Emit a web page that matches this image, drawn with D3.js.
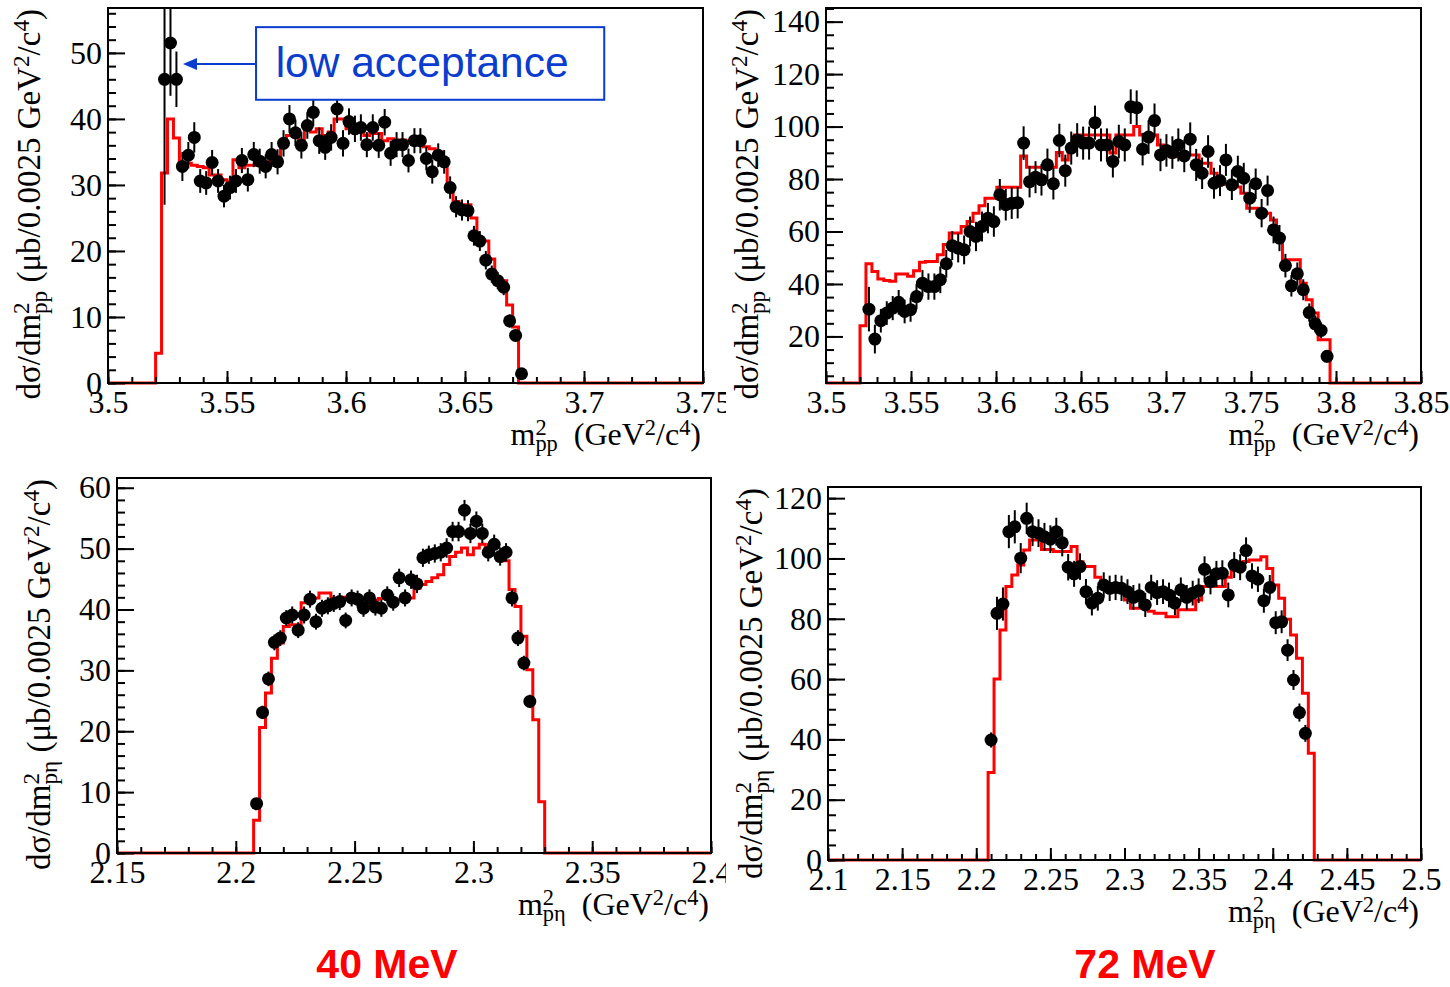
<!DOCTYPE html>
<html>
<head>
<meta charset="utf-8">
<script src="https://cdn.jsdelivr.net/npm/d3@7"></script>
<style>
  body { margin: 0; background: #fff; }
  svg { display: block; }
</style>
</head>
<body>
<svg id="chart" width="1450" height="987"></svg>
<script>
// ---------------- data ----------------

// 40 MeV, m^2(pp): bins of 0.0025 from 3.52
var ppLowBinStart = 3.52, ppLowBinWidth = 0.0025;
var ppLowSim = [4.5,31.8,40,37.1,33.3,33.3,33.0,32.8,32.6,31.5,31.5,30.8,30.5,33.8,32.6,33.0,33.0,33.2,33.2,33.5,
  33.8,36.5,37.5,37.5,36.8,38.5,38.0,38.5,37.5,38.0,40.0,40.0,38.5,38.0,38.2,37.5,37.8,37.8,36.7,37.0,
  36.5,36.8,36.7,37.2,37.2,35.8,35.5,35.0,33.8,30.0,27.5,27.0,27.0,25.0,21.5,21.5,18.8,15.5,15.5,11.8,
  8.5,0];
var ppLowData = [null,46,51.5,46,32.8,34.5,37.2,30.6,30.3,33.4,30.6,28.3,29.6,30.6,33.7,30.8,34.6,33.6,32.8,34.6,
  33.5,36.3,40.0,37.9,36.0,39.0,41.0,36.7,35.7,37.2,41.5,36.3,39.6,38.5,38.7,36.1,38.7,36.0,39.5,34.8,
  36.1,36.1,33.7,36.7,36.7,34.0,32.0,34.5,33.5,29.6,26.7,26.2,26.1,22.3,21.5,18.6,16.5,15.5,14.5,9.4,
  7.2,1.4];
var ppLowErr = [0,19,8,4.2,2.2,2.0,2.3,1.8,1.8,1.9,1.8,1.7,1.8,1.8,1.9,1.8,1.9,1.9,1.8,1.9,
  1.9,2.0,2.1,2.0,2.0,2.0,2.1,2.0,1.9,2.0,2.1,2.0,2.0,2.0,2.0,1.9,2.0,1.9,2.0,1.9,
  1.9,1.9,1.8,1.9,1.9,1.8,1.8,1.8,1.8,1.7,1.6,1.6,1.6,1.5,1.5,1.4,1.3,1.3,1.2,1.0,
  0.9,0.5];
var ppLowXTicks = [3.5, 3.55, 3.6, 3.65, 3.7, 3.75];
var ppLowYTicks = [0, 10, 20, 30, 40, 50];

// 72 MeV, m^2(pp): bins of 0.0035 from 3.52
var ppHighBinStart = 3.52, ppHighBinWidth = 0.0035;
var ppHighSim = [24.1,47.7,44.8,41.9,41.3,41.0,43.8,43.8,42.9,45.0,48.3,48.6,48.6,51.1,55.0,59.4,59.4,61.9,63.8,67.0,
  69.8,72.7,72.7,76.9,76.9,76.9,76.9,88.8,84.5,84.5,84.5,84.5,84.5,90.1,87.3,91.1,96.8,96.8,96.8,96.8,
  96.8,96.8,89.9,96.8,96.8,96.8,100,96.8,96.8,96.8,93,89.5,88.5,88.5,88.5,89.2,89.2,86,86,82.2,
  79,78,77,77,74.6,68.9,68.9,67,67,64.4,58.1,49.2,49.2,49.2,40.3,34,28.9,18.7,18.7,0];
var ppHighData = [null,30.4,19.0,26.0,28.9,30.8,33.0,29.5,30.2,35.2,40.3,39.0,39.0,41.6,47.7,54.6,53.7,53.0,60.0,58.1,
  61.9,65.1,63.8,74.0,70.2,70.8,71.0,93.7,79.0,80.7,79.7,85.4,78.2,94.7,83.2,91.8,94.9,93.7,93.7,101.5,
  93.0,93.0,86.7,94.3,93.0,107.6,107.2,91.4,96.0,102.3,89.2,90.9,90.1,93.0,88.8,95.2,85.4,82.2,90.5,78.4,
  79.4,87.3,77.8,82.9,80.3,72.7,78.2,67.0,75.6,60.6,57.5,47.0,39.3,43.9,37.8,29.1,24.8,22.3,12.4,null];
var ppHighErr = [0,8.5,5.5,4.5,4.5,4.6,4.7,4.5,4.6,4.8,5.0,5.0,5.0,5.1,5.3,5.5,5.5,5.5,5.7,5.6,
  5.7,5.8,5.8,6.0,6.0,6.0,6.0,6.4,6.0,6.1,6.0,6.2,6.0,6.4,6.1,6.3,6.4,6.3,6.3,6.5,
  6.3,6.3,6.1,6.4,6.3,6.6,6.6,6.2,6.4,6.5,6.2,6.2,6.2,6.3,6.2,6.4,6.1,6.0,6.2,5.9,
  5.9,6.1,5.8,6.0,5.9,5.6,5.8,5.4,5.7,5.1,5.0,4.5,4.1,4.3,4.0,3.5,3.2,3.0,2.3,0];
var ppHighXTicks = [3.5, 3.55, 3.6, 3.65, 3.7, 3.75, 3.8, 3.85];
var ppHighYTicks = [20, 40, 60, 80, 100, 120, 140];

// 40 MeV, m^2(p eta): bins of 0.0025 from 2.2075
var petaLowBinStart = 2.2075, petaLowBinWidth = 0.0025;
var petaLowSim = [5.4,20.6,26.3,32.0,34.5,37.2,37.5,37.5,41.1,41.9,41.9,42.7,42.7,41.9,41.9,42.0,42.2,42.0,41.8,42.0,
  41.5,41.8,42.0,41.6,41.6,41.9,41.9,43.5,44.1,44.6,45.2,45.7,47.4,48.7,49.4,50.1,49.0,50.1,50.7,49.6,
  49.0,48.2,48.0,43.3,40.5,35.6,30.1,21.9,8.4];
var petaLowData = [8.1,23.1,28.6,34.6,35.3,38.6,39.1,36.6,39.1,41.7,38.0,40.2,40.6,41.0,41.3,38.2,41.9,41.7,40.2,41.9,
  40.4,40.2,42.4,41.2,45.2,41.9,44.9,44.2,48.5,49.0,49.2,49.4,50.1,52.8,52.8,56.3,52.5,54.5,52.5,49.4,
  50.7,48.7,49.4,41.9,35.3,31.2,24.9];
var petaLowErr = [0.8,1.1,1.2,1.3,1.3,1.3,1.4,1.3,1.4,1.4,1.3,1.4,1.4,1.4,1.4,1.3,1.4,1.4,1.4,1.4,
  1.4,1.4,1.4,1.4,1.5,1.4,1.5,1.5,1.5,1.5,1.5,1.5,1.6,1.6,1.6,1.7,1.6,1.6,1.6,1.5,
  1.6,1.5,1.5,1.4,1.3,1.2,1.1];
var petaLowXTicks = [2.15, 2.2, 2.25, 2.3, 2.35, 2.4];
var petaLowYTicks = [0, 10, 20, 30, 40, 50, 60];

// 72 MeV, m^2(p eta): bins of 0.004 from 2.208
var petaHighBinStart = 2.208, petaHighBinWidth = 0.004;
var petaHighSim = [29,60,76.3,90.7,94.5,97.8,102.8,106.1,106.1,103,103,102.3,102.3,102.3,104,98.9,97.3,97.3,93.8,92,
  91,90,89,86.2,83.5,83.5,83.5,82.5,81.8,81.8,80.7,80.7,83,83,83,86.2,90.7,90.7,90.7,90.7,
  93.8,96,96.5,99,99.5,99.5,100.6,96.7,91.2,86.8,79.8,74.6,66.9,55.3,35.4];
var petaHighData = [39.8,81.8,84.9,108.9,110.5,100.1,113.3,108.9,108.4,107.2,106.4,108.9,105.2,97.1,94.9,97.3,89.0,85.2,86.8,91.2,
  90.1,90.4,90.1,89.0,87.1,87.6,84.6,90.4,88.7,89.0,87.9,85.2,89.6,87.1,88.5,89.3,96.4,92.3,94.9,95.1,
  87.9,97.8,97.1,102.6,94.2,93.1,86.0,90.4,78.7,79.0,69.6,59.7,48.9,42.0];
var petaHighErr = [2.5,5.5,5.5,5.5,5.5,5.0,5.2,4.8,4.6,4.6,4.6,4.6,4.5,4.4,4.3,4.4,4.2,4.1,4.1,4.2,
  4.2,4.2,4.2,4.1,4.1,4.1,4.0,4.2,4.1,4.1,4.1,4.0,4.1,4.1,4.1,4.1,4.3,4.2,4.3,4.3,
  4.1,4.3,4.3,4.4,4.2,4.2,4.0,4.1,3.8,3.8,3.6,3.3,3.0,2.8];
var petaHighXTicks = [2.1, 2.15, 2.2, 2.25, 2.3, 2.35, 2.4, 2.45, 2.5];
var petaHighYTicks = [0, 20, 40, 60, 80, 100, 120];

var energyLabels = ["40 MeV", "72 MeV"];

// ---------------- layout ----------------
var serif = "'Liberation Serif', 'Times New Roman', serif";
var sans = "'Liberation Sans', Arial, sans-serif";
var fontSize = 32;

var panels = [
  { id: "a", frame: {left: 108, top: 8, right: 703, bottom: 383}, viewRight: 726,
    xDomain: [3.5, 3.75], yDomain: [0, 56.8], xMinor: 0.01, yMinor: 2,
    binStart: ppLowBinStart, binWidth: ppLowBinWidth, sim: ppLowSim, data: ppLowData, err: ppLowErr,
    xTicks: ppLowXTicks, yTicks: ppLowYTicks, sub: "pp", titleX: 40, xTitleY: 445 },
  { id: "b", frame: {left: 826, top: 8, right: 1421, bottom: 383}, viewRight: 1450,
    xDomain: [3.5, 3.85], yDomain: [2.25, 145.2], xMinor: 0.01, yMinor: 5,
    binStart: ppHighBinStart, binWidth: ppHighBinWidth, sim: ppHighSim, data: ppHighData, err: ppHighErr,
    xTicks: ppHighXTicks, yTicks: ppHighYTicks, sub: "pp", titleX: 758, xTitleY: 445 },
  { id: "c", frame: {left: 117, top: 478, right: 711, bottom: 853}, viewRight: 726,
    xDomain: [2.15, 2.4], yDomain: [0, 61.6], xMinor: 0.01, yMinor: 2,
    binStart: petaLowBinStart, binWidth: petaLowBinWidth, sim: petaLowSim, data: petaLowData, err: petaLowErr,
    xTicks: petaLowXTicks, yTicks: petaLowYTicks, sub: "p\u03b7", titleX: 50, xTitleY: 915 },
  { id: "d", frame: {left: 828, top: 487, right: 1421, bottom: 860}, viewRight: 1450,
    xDomain: [2.1, 2.5], yDomain: [0, 123.7], xMinor: 0.01, yMinor: 5,
    binStart: petaHighBinStart, binWidth: petaHighBinWidth, sim: petaHighSim, data: petaHighData, err: petaHighErr,
    xTicks: petaHighXTicks, yTicks: petaHighYTicks, sub: "p\u03b7", titleX: 762, xTitleY: 922 }
];

var svg = d3.select("#chart");
var defs = svg.append("defs");

// text with stacked super/subscripts (ROOT style m^{2}_{pp})
function richText(text, parts, size) {
  var level = 0, prev = null;
  parts.forEach(function (p) {
    var target = p.sup ? -size * 0.32 : (p.sub ? size * 0.2 : 0);
    var ts = text.append("tspan")
      .attr("font-size", (p.sup || p.sub) ? size * 0.7 : size)
      .attr("dy", target - level)
      .text(p.t);
    if (p.under && prev) ts.attr("dx", -prev.node().getComputedTextLength());
    level = target;
    prev = ts;
  });
}

function drawPanel(p) {
  var f = p.frame;
  defs.append("clipPath").attr("id", "view-" + p.id).append("rect")
    .attr("x", 0).attr("y", 0).attr("width", p.viewRight).attr("height", 987);
  defs.append("clipPath").attr("id", "plot-" + p.id).append("rect")
    .attr("x", f.left).attr("y", f.top)
    .attr("width", f.right - f.left).attr("height", f.bottom - f.top + 3);

  var g = svg.append("g").attr("clip-path", "url(#view-" + p.id + ")");

  var x = d3.scaleLinear().domain(p.xDomain).range([f.left, f.right]);
  var y = d3.scaleLinear().domain(p.yDomain).range([f.bottom, f.top]).clamp(true);

  var plot = g.append("g").attr("clip-path", "url(#plot-" + p.id + ")");

  // simulation histogram (red steps)
  var steps = [{x: p.xDomain[0], v: 0}];
  p.sim.forEach(function (v, i) { steps.push({x: p.binStart + i * p.binWidth, v: v}); });
  steps.push({x: p.binStart + p.sim.length * p.binWidth, v: 0});
  steps.push({x: p.xDomain[1], v: 0});
  var line = d3.line().curve(d3.curveStepAfter)
    .x(function (d) { return x(d.x); })
    .y(function (d) { return y(d.v); });
  plot.append("path").datum(steps)
    .attr("fill", "none").attr("stroke", "#ff0000").attr("stroke-width", 3)
    .attr("d", line);

  // data points
  var pts = [];
  p.data.forEach(function (v, i) {
    if (v !== null) pts.push({x: p.binStart + (i + 0.5) * p.binWidth, v: v, e: p.err[i]});
  });
  plot.selectAll("line.err").data(pts).enter().append("line")
    .attr("class", "err")
    .attr("x1", function (d) { return x(d.x); })
    .attr("x2", function (d) { return x(d.x); })
    .attr("y1", function (d) { return y(d.v - d.e); })
    .attr("y2", function (d) { return y(d.v + d.e); })
    .attr("stroke", "#000").attr("stroke-width", 2);
  plot.selectAll("circle").data(pts).enter().append("circle")
    .attr("cx", function (d) { return x(d.x); })
    .attr("cy", function (d) { return y(d.v); })
    .attr("r", 6.5)
    .attr("fill", "#000");

  // axes: ROOT style ticks pointing into the frame
  var fmt = function (d) { return String(+d.toFixed(3)); };
  var eps = 1e-9;
  var xMinorTicks = d3.range(Math.ceil(p.xDomain[0] / p.xMinor - eps), Math.floor(p.xDomain[1] / p.xMinor + eps) + 1)
    .map(function (k) { return k * p.xMinor; });
  var yMinorTicks = d3.range(Math.ceil(p.yDomain[0] / p.yMinor - eps), Math.floor(p.yDomain[1] / p.yMinor + eps) + 1)
    .map(function (k) { return k * p.yMinor; });

  g.append("g").attr("transform", "translate(0," + f.bottom + ")")
    .call(d3.axisBottom(x).tickValues(xMinorTicks).tickSize(-6).tickFormat(""))
    .call(function (s) { s.select(".domain").remove(); });
  g.append("g").attr("transform", "translate(0," + f.bottom + ")")
    .call(d3.axisBottom(x).tickValues(p.xTicks).tickSize(-12).tickPadding(7).tickFormat(fmt))
    .call(function (s) { s.select(".domain").remove(); });
  g.append("g").attr("transform", "translate(" + f.left + ",0)")
    .call(d3.axisLeft(y).tickValues(yMinorTicks).tickSize(-8).tickFormat(""))
    .call(function (s) { s.select(".domain").remove(); });
  g.append("g").attr("transform", "translate(" + f.left + ",0)")
    .call(d3.axisLeft(y).tickValues(p.yTicks).tickSize(-17).tickPadding(6).tickFormat(fmt))
    .call(function (s) { s.select(".domain").remove(); });

  g.selectAll(".tick line").attr("stroke", "#000").attr("stroke-width", 2);
  g.selectAll(".tick text").attr("font-family", serif).attr("font-size", fontSize).attr("fill", "#000");

  // frame
  g.append("rect")
    .attr("x", f.left).attr("y", f.top)
    .attr("width", f.right - f.left).attr("height", f.bottom - f.top)
    .attr("fill", "none").attr("stroke", "#000").attr("stroke-width", 2);

  // x title
  var xt = g.append("text")
    .attr("x", f.right - 2).attr("y", p.xTitleY)
    .attr("text-anchor", "end")
    .attr("font-family", serif).attr("font-size", fontSize);
  richText(xt, [{t: "m"}, {t: "2", sup: true}, {t: p.sub, sub: true, under: true},
    {t: "\u00a0 (GeV"}, {t: "2", sup: true}, {t: "/c"}, {t: "4", sup: true}, {t: ")"}], fontSize);

  // y title
  var yt = g.append("text")
    .attr("transform", "translate(" + p.titleX + "," + (f.top + 1) + ") rotate(-90)")
    .attr("text-anchor", "end")
    .attr("font-family", serif).attr("font-size", 33);
  richText(yt, [{t: "d\u03c3/dm"}, {t: "2", sup: true}, {t: p.sub, sub: true, under: true},
    {t: " (\u03bcb/0.0025 GeV"}, {t: "2", sup: true}, {t: "/c"}, {t: "4", sup: true}, {t: ")"}], 33);

  return {x: x, y: y, g: g};
}

var drawn = panels.map(drawPanel);

// "low acceptance" annotation on the first panel
(function () {
  var a = drawn[0], x = a.x, y = a.y;
  var blue = "#0a3ccf";
  var box = {x0: 3.5622, x1: 3.7085, yTop: 53.9, yBottom: 42.9};
  var tip = {x: 3.5315, y: 48.3};
  a.g.append("rect")
    .attr("x", x(box.x0)).attr("y", y(box.yTop))
    .attr("width", x(box.x1) - x(box.x0)).attr("height", y(box.yBottom) - y(box.yTop))
    .attr("fill", "#fff").attr("stroke", blue).attr("stroke-width", 2);
  a.g.append("text")
    .attr("x", (x(box.x0) + x(box.x1)) / 2 - 8)
    .attr("y", (y(box.yTop) + y(box.yBottom)) / 2 + 14)
    .attr("text-anchor", "middle")
    .attr("font-family", sans).attr("font-size", 42.5).attr("fill", blue)
    .text("low acceptance");
  var tx = x(tip.x), ty = y(tip.y);
  a.g.append("line")
    .attr("x1", x(box.x0)).attr("x2", tx + 10).attr("y1", ty).attr("y2", ty)
    .attr("stroke", blue).attr("stroke-width", 2);
  a.g.append("path")
    .attr("d", "M" + tx + "," + ty + "L" + (tx + 14) + "," + (ty - 6) + "L" + (tx + 14) + "," + (ty + 6) + "Z")
    .attr("fill", blue);
})();

// beam energy labels under the columns
var energyX = [387, 1145];
svg.selectAll("text.energy").data(energyLabels).enter().append("text")
  .attr("class", "energy")
  .attr("x", function (d, i) { return energyX[i]; })
  .attr("y", 978)
  .attr("text-anchor", "middle")
  .attr("font-family", sans).attr("font-weight", "bold").attr("font-size", 41)
  .attr("fill", "#ff0000")
  .text(function (d) { return d; });
</script>
</body>
</html>
